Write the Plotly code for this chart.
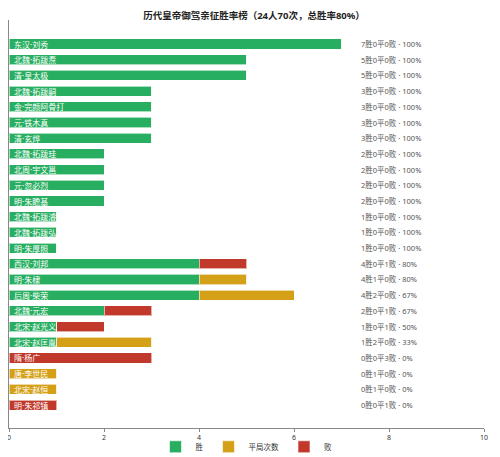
import plotly.graph_objects as go

names = ["东汉·刘秀", "北魏·拓跋焘", "清·皇太极", "北魏·拓跋嗣", "金·完颜阿骨打", "元·铁木真", "清·玄烨",
         "北魏·拓跋珪", "北周·宇文邕", "元·忽必烈", "明·朱瞻基", "北魏·拓跋濬", "北魏·拓跋弘", "明·朱厚照",
         "西汉·刘邦", "明·朱棣", "后周·柴荣", "北魏·元宏", "北宋·赵光义", "北宋·赵匡胤", "隋·杨广",
         "唐·李世民", "北宋·赵恒", "明·朱祁镇"]
wins = [7, 5, 5, 3, 3, 3, 3, 2, 2, 2, 2, 1, 1, 1, 4, 4, 4, 2, 1, 1, 0, 0, 0, 0]
draws = [0, 0, 0, 0, 0, 0, 0, 0, 0, 0, 0, 0, 0, 0, 0, 1, 2, 0, 0, 2, 0, 1, 1, 0]
losses = [0, 0, 0, 0, 0, 0, 0, 0, 0, 0, 0, 0, 0, 0, 1, 0, 0, 1, 1, 0, 3, 0, 0, 1]
rates = ["100%"] * 14 + ["80%", "80%", "67%", "67%", "50%", "33%", "0%", "0%", "0%", "0%"]
x_ticks = [0, 2, 4, 6, 8, 10]

FONT = "Noto Sans, Noto Sans CJK SC"
idx = list(range(len(names)))

fig = go.Figure()
for vals, nm, col in [(wins, "胜", "#27ae60"), (draws, "平局次数", "#d4a017"), (losses, "败", "#c0392b")]:
    fig.add_trace(go.Bar(
        y=idx, x=vals, name=nm, orientation="h",
        marker=dict(color=col, line=dict(color="rgba(255,255,255,0.6)", width=1)),
        hoverinfo="skip",
    ))

annotations = []
for i, n in enumerate(names):
    annotations.append(dict(x=0, y=i, xref="x", yref="y", text=n, showarrow=False,
                            xanchor="left", xshift=3,
                            font=dict(family=FONT, size=8, color="white")))
    annotations.append(dict(x=0.737, y=i, xref="paper", yref="y",
                            text=f"{wins[i]}胜{draws[i]}平{losses[i]}败 · {rates[i]}",
                            showarrow=False, xanchor="left",
                            font=dict(family=FONT, size=7.5, color="#555")))

fig.update_layout(
    width=492, height=449,
    margin=dict(l=1, r=16, t=12, b=29, autoexpand=False),
    paper_bgcolor="white", plot_bgcolor="white",
    barmode="stack", bargap=0.36,
    title=dict(text="<b>历代皇帝御驾亲征胜率榜（24人70次，总胜率80%）</b>",
               x=0.5, xanchor="center", y=0.984, yanchor="middle", pad=dict(t=0, b=0),
               font=dict(family=FONT, size=9.5, color="#222")),
    font=dict(family=FONT, size=7, color="#333"),
    xaxis=dict(range=[0, 10], tickvals=x_ticks, showgrid=False, zeroline=False,
               showline=True, linecolor="#888", linewidth=1,
               ticks="outside", ticklen=3, tickcolor="#888", ticklabeloverflow="allow",
               tickfont=dict(size=7, color="#333")),
    yaxis=dict(range=[24.46, -1.53], showticklabels=False, showgrid=False, zeroline=False,
               showline=True, linecolor="#888", linewidth=1,
               tickvals=idx, ticks="outside", ticklen=3, tickcolor="#888"),
    legend=dict(orientation="h", x=0.5, xanchor="center", y=-0.046, yanchor="middle",
                bgcolor="rgba(0,0,0,0)",
                font=dict(family=FONT, size=7.5, color="#333"), traceorder="normal",
                itemwidth=30, tracegroupgap=0),
    annotations=annotations,
)

fig.write_html("out.html")
